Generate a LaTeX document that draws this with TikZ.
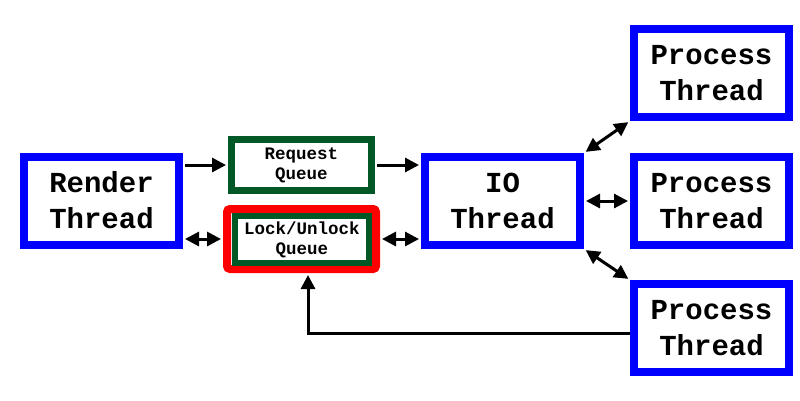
\documentclass[tikz,border=0pt]{standalone}
\usepackage{fontspec}
\setmonofont{Liberation Mono}
\usetikzlibrary{arrows.meta,calc}
\definecolor{qgreen}{RGB}{0,88,38}
\definecolor{tblue}{RGB}{0,0,255}
\definecolor{lred}{RGB}{255,0,0}
\tikzset{
  thread/.style={draw=tblue, line width=8pt, fill=white, minimum width=155pt, minimum height=88pt,
    inner sep=0pt, align=center, font=\ttfamily\bfseries\fontsize{29}{36}\selectfont},
  queue/.style={draw=qgreen, line width=7pt, fill=white, inner sep=0pt, align=center,
    font=\ttfamily\bfseries\fontsize{17.5}{20}\selectfont},
  lockouter/.style={draw=lred, line width=8pt, rounded corners=3pt, minimum width=149pt, minimum height=60pt, inner sep=0pt},
  conn/.style={line width=3pt, shorten <=2pt, shorten >=2pt},
  mytip/.tip={Triangle[length=14pt,width=14pt]}
}
\begin{document}
\begin{tikzpicture}[x=1pt,y=1pt]
\useasboundingbox (0,0) rectangle (800,-400);
\node[thread] (render) at (101.5,-200.5) {Render\\Thread};
\node[queue, minimum width=140pt, minimum height=51pt] (request) at (301.5,-165) {Request\\Queue};
\node[lockouter] (lock) at (301.5,-239) {};
\node[queue, line width=6pt, minimum width=134pt, minimum height=47pt] (lockin) at (302,-239.5) {Lock/Unlock\\Queue};
\node[thread] (io) at (502.5,-201) {IO\\Thread};
\node[thread] (p1) at (711.5,-73) {Process\\Thread};
\node[thread] (p2) at (711.5,-201) {Process\\Thread};
\node[thread] (p3) at (711.5,-328) {Process\\Thread};
\draw[conn,-{mytip}] (render.east |- request) -- (request.west);
\draw[conn,-{mytip}] (request.east) -- (io.west |- request);
\draw[conn,{mytip}-{mytip}] (render.east |- lock) -- (lock.west);
\draw[conn,{mytip}-{mytip}] (lock.east) -- (io.west |- lock);
\draw[conn,{mytip}-{mytip}] (io.north east) -- (p1.south west);
\draw[conn,{mytip}-{mytip}] (io.east) -- (p2.west);
\draw[conn,{mytip}-{mytip}] (io.south east) -- (p3.north west);
\draw[line width=3pt, shorten >=2pt, -{mytip}] ([yshift=-5pt]p3.west) -| ([xshift=6.5pt]lock.south);
\end{tikzpicture}
\end{document}
